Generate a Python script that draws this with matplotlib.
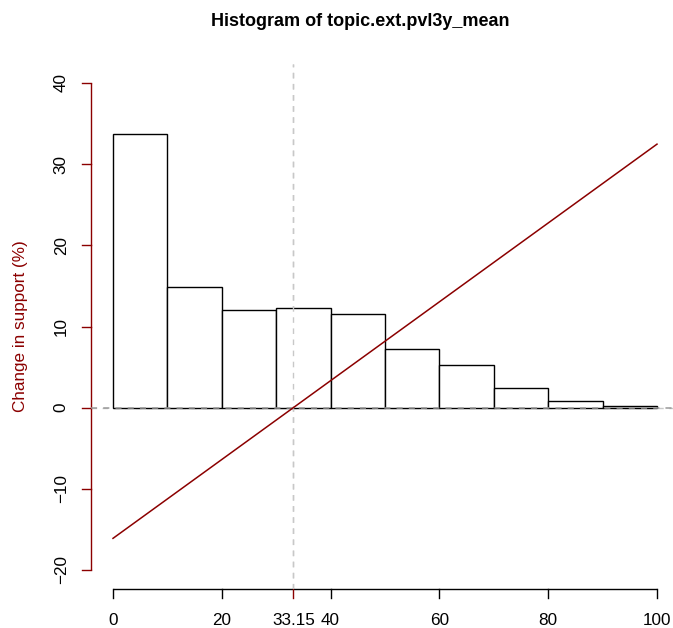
import matplotlib
matplotlib.use("Agg")
import matplotlib.pyplot as plt
import numpy as np

plt.rcParams['font.family'] = ['Liberation Sans', 'DejaVu Sans']

# Histogram of topic.ext.pvl3y_mean (bin edges and heights, scaled to %)
bin_edges = [0, 10, 20, 30, 40, 50, 60, 70, 80, 90, 100]
bin_heights = [33.7, 14.9, 12.0, 12.3, 11.5, 7.2, 5.3, 2.45, 0.8, 0.2]

# Fitted change in support: value at 0 and the break-even point
intercept = -16.1
breakeven = 33.15

x_ticks = [0, 20, 40, 60, 80, 100]
y_ticks = [-20, -10, 0, 10, 20, 30, 40]

DARKRED = '#8B0000'
W, H = 673, 628
fig = plt.figure(figsize=(W / 100, H / 100), dpi=100)

# plot region in pixels (R-style 4% axis extension)
x0_px, x100_px = 113, 657
ym20_px, y40_px = 570, 83
sx = (x100_px - x0_px) / 100
sy = (ym20_px - y40_px) / 60
xlim = (-4, 104)
ylim = (-22.4, 42.4)
left = x0_px + (xlim[0]) * sx
right = x0_px + (xlim[1]) * sx
top = y40_px - (ylim[1] - 40) * sy
bottom = ym20_px + (-20 - ylim[0]) * sy
ax = fig.add_axes([left / W, 1 - bottom / H, (right - left) / W, (bottom - top) / H])
ax.set_xlim(*xlim)
ax.set_ylim(*ylim)
ax.axis('off')

FS = 12.3

# reference lines
ax.axhline(0, color='#c8c8c8', lw=1, ls=(0, (4, 4)), zorder=1)
ax.axvline(breakeven, color='#c8c8c8', lw=1, ls=(0, (4, 4)), zorder=1)

# histogram bars
lefts = np.array(bin_edges[:-1])
widths = np.diff(bin_edges)
ax.bar(lefts, bin_heights, width=widths, align='edge', facecolor='white',
       edgecolor='black', linewidth=1.0, zorder=2)
ax.axhline(0, color='#9a9a9a', lw=1.1, ls=(0, (4, 4)), zorder=3)
ax.axvline(breakeven, color='#c8c8c8', lw=1, ls=(0, (4, 4)), zorder=3)

# fitted line
lx = np.array([bin_edges[0], bin_edges[-1]])
ly = intercept * (1 - lx / breakeven)
ax.plot(lx, ly, color=DARKRED, lw=1.1, zorder=4, clip_on=False)

# y axis (left, dark red)
ax.plot([xlim[0], xlim[0]], [y_ticks[0], y_ticks[-1]], color=DARKRED, lw=1,
        clip_on=False, solid_capstyle='butt')
tick_len_x = 9 / sx
for t in y_ticks:
    ax.plot([xlim[0] - tick_len_x, xlim[0]], [t, t], color=DARKRED, lw=1, clip_on=False)
    ax.text(xlim[0] - 30 / sx, t, str(t).replace('-', '\u2212'), rotation=90,
            ha='center', va='center', fontsize=FS, color='black')
ax.text(xlim[0] - 71 / sx, 10, 'Change in support (%)', rotation=90,
        ha='center', va='center', fontsize=FS, color=DARKRED)

# x axis (bottom)
tick_len_y = 9 / sy
ax.plot([x_ticks[0], x_ticks[-1]], [ylim[0], ylim[0]], color='black', lw=1,
        clip_on=False, solid_capstyle='butt')
for t in x_ticks:
    ax.plot([t, t], [ylim[0], ylim[0] - tick_len_y], color='black', lw=1, clip_on=False)
    ax.text(t, ylim[0] - 31 / sy, str(t), ha='center', va='center', fontsize=FS)
ax.plot([breakeven, breakeven], [ylim[0], ylim[0] - tick_len_y], color=DARKRED, lw=1,
        clip_on=False)
ax.text(breakeven, ylim[0] - 31 / sy, f'{breakeven:.2f}', ha='center', va='center',
        fontsize=FS)

fig.text(360 / W, 1 - 22 / H, 'Histogram of topic.ext.pvl3y_mean', ha='center',
         va='center', fontsize=13, fontweight='bold')

fig.savefig('out.png', dpi=100)
